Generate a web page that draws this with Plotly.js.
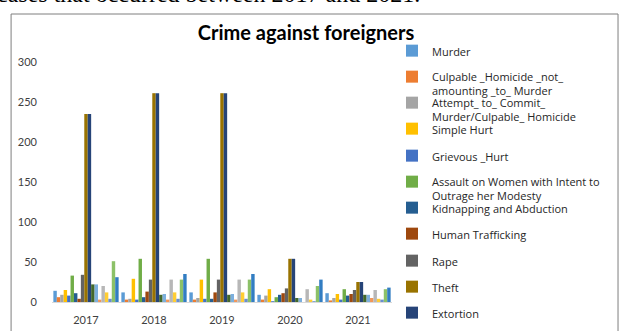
<!DOCTYPE html>
<html>
<head>
<meta charset="utf-8">
<script src="https://cdn.plot.ly/plotly-3.0.1.min.js"></script>
<style>html,body{margin:0;padding:0;background:#fff;}#chart{width:634px;height:331px;}</style>
</head>
<body>
<div id="chart"></div>
<script>
// ---- data ----
const years = ['2017', '2018', '2019', '2020', '2021'];
const yTicks = [0, 50, 100, 150, 200, 250, 300];

const murder            = [14, 12, 12, 9, 11];
const culpableHomicide  = [6, 3, 3, 3, 2];
const attemptMurder     = [9, 4, 5, 8, 5];
const simpleHurt        = [15, 29, 28, 16, 10];
const grievousHurt      = [8, 3, 4, 1, 3];
const assaultWomen      = [33, 54, 54, 6, 16];
const kidnapping        = [11, 6, 4, 9, 8];
const humanTrafficking  = [4, 13, 12, 11, 10];
const rape              = [34, 28, 28, 17, 15];
const theft             = [235, 261, 261, 54, 25];
const extortion         = [235, 261, 261, 54, 25];
// series whose legend entries are cut off in the reference
const robbery           = [22, 9, 9, 5, 9];
const dacoity           = [22, 10, 10, 5, 9];
const burglary          = [3, 3, 3, 0, 5];
const cheating          = [20, 28, 28, 16, 15];
const forgery           = [12, 12, 12, 3, 4];
const breachOfTrust     = [4, 4, 4, 1, 3];
const cyberCrimes       = [51, 28, 28, 20, 16];
const otherIPC          = [31, 35, 35, 28, 18];

const seriesNames = [
  'Murder',
  'Culpable _Homicide _not_<br>amounting _to_ Murder',
  'Attempt_ to_ Commit_<br>Murder/Culpable_ Homicide',
  'Simple Hurt',
  'Grievous _Hurt',
  'Assault on Women with Intent to<br>Outrage her Modesty',
  'Kidnapping and Abduction',
  'Human Trafficking',
  'Rape',
  'Theft',
  'Extortion',
  'Robbery', 'Dacoity', 'Criminal Trespass/Burglary', 'Cheating',
  'Forgery', 'Criminal Breach of Trust', 'Cyber Crimes', 'Other IPC Crimes'
];
const seriesValues = [murder, culpableHomicide, attemptMurder, simpleHurt, grievousHurt,
  assaultWomen, kidnapping, humanTrafficking, rape, theft, extortion,
  robbery, dacoity, burglary, cheating, forgery, breachOfTrust, cyberCrimes, otherIPC];

// ---- styling ----
const colors = ['#5B9BD5', '#ED7D31', '#A5A5A5', '#FFC000', '#4472C4', '#70AD47',
  '#255E91', '#9E480E', '#636363', '#997300', '#264478', '#43682B',
  '#7CAFDD', '#F1975A', '#B7B7B7', '#FFCD33', '#698ED0', '#8CC168', '#327DC2'];
const legendTextY = [50, 76, 102, 128, 155, 181, 207, 233, 260, 286, 312];

const W = 634, H = 331;
const traces = seriesValues.map((vals, i) => {
  const t = {
    type: 'bar', x: years, y: vals, name: seriesNames[i],
    marker: {color: colors[i], line: {width: 0}},
    showlegend: i < 11
  };
  if (i < 11) t.legend = i === 0 ? 'legend' : 'legend' + (i + 1);
  return t;
});

const layout = {
  width: W, height: H,
  margin: {l: 52, r: 233, t: 62, b: 29, pad: 0},
  paper_bgcolor: '#fff', plot_bgcolor: '#fff',
  font: {family: 'Lato, "Open Sans", sans-serif', size: 11, color: '#404040'},
  title: {text: '<b>Crime against foreigners</b>', font: {family: 'Lato, sans-serif', size: 20, color: '#000'},
          x: 306 / W, xanchor: 'center', xref: 'container', y: 1 - 33 / H, yanchor: 'middle', yref: 'container'},
  barmode: 'group', bargap: 0.04, bargroupgap: 0,
  xaxis: {type: 'category', showgrid: false, zeroline: false, showline: true, linecolor: '#d9d9d9',
          ticks: '', tickfont: {size: 11, color: '#404040'}, ticklabelstandoff: 8},
  yaxis: {range: [0, 300], tickvals: yTicks, showgrid: false, zeroline: false, showline: false,
          ticks: '', tickfont: {size: 11, color: '#404040'}, ticklabelstandoff: 14},
  shapes: [{type: 'rect', xref: 'paper', yref: 'paper',
            x0: (10 - 52) / 349, x1: (633 - 52) / 349, y0: (302 - 340) / 240, y1: (302 - 14) / 240,
            line: {color: '#7f7f7f', width: 1}, fillcolor: 'rgba(0,0,0,0)'}],
  annotations: [{text: 'cases that occurred between 2017 and 2021.', xref: 'paper', yref: 'paper',
                 x: (-6 - 52) / 349, xanchor: 'left', y: (302 + 6) / 240, yanchor: 'middle',
                 showarrow: false, font: {family: '"Liberation Serif", serif', size: 24, color: '#000'}}]
};

legendTextY.forEach((yc, i) => {
  const key = i === 0 ? 'legend' : 'legend' + (i + 1);
  layout[key] = {
    xref: 'container', yref: 'container', x: 392 / W, xanchor: 'left',
    y: 1 - (yc - 13) / H, yanchor: 'top', valign: 'top',
    bgcolor: 'rgba(0,0,0,0)', borderwidth: 0, itemclick: false,
    font: {family: '"Open Sans", sans-serif', size: 11, color: '#262626'}
  };
});

Plotly.newPlot('chart', traces, layout, {staticPlot: true, displayModeBar: false});
</script>
</body>
</html>
